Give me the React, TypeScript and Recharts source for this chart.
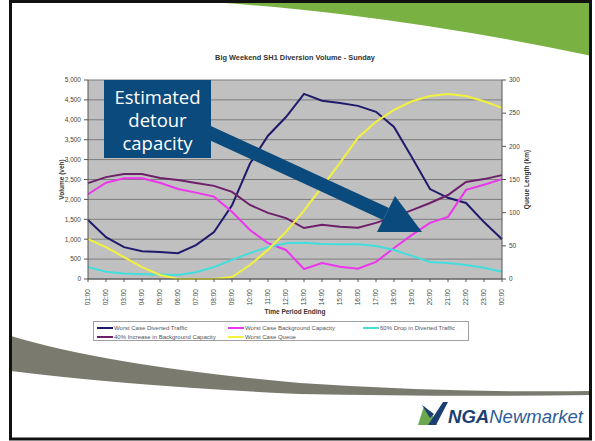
import React from "react";
import { CartesianGrid, Legend, Line, LineChart, XAxis, YAxis } from "recharts";

const times = [
  "01:00", "02:00", "03:00", "04:00", "05:00", "06:00", "07:00", "08:00",
  "09:00", "10:00", "11:00", "12:00", "13:00", "14:00", "15:00", "16:00",
  "17:00", "18:00", "19:00", "20:00", "21:00", "22:00", "23:00", "00:00"
];

const divertedTraffic = [
  1480, 1050, 800, 700, 680, 650, 850, 1180, 1850, 2900, 3600, 4070,
  4650, 4480, 4420, 4350, 4200, 3820, 3050, 2260, 2040, 1910, 1430, 1000
];

const backgroundCapacity = [
  2130, 2420, 2530, 2530, 2420, 2260, 2170, 2070, 1690, 1230, 900, 730,
  250, 400, 310, 260, 430, 780, 1110, 1410, 1560, 2240, 2370, 2510
];

const dropInDiverted = [
  300, 180, 140, 120, 110, 100, 170, 300, 480, 650, 800, 900,
  910, 880, 870, 870, 830, 730, 580, 430, 400, 350, 280, 180
];

const increaseBackground = [
  2410, 2560, 2640, 2640, 2540, 2490, 2410, 2340, 2190, 1860, 1660, 1530,
  1280, 1360, 1310, 1290, 1410, 1560, 1730, 1910, 2110, 2440, 2510, 2610
];

// queue length in km, on the right axis
const queueLength = [
  60, 48, 33, 18, 6, 0, 0, 0, 3, 21, 44, 71,
  103, 139, 175, 213, 237, 255, 268, 276, 279, 276, 268, 258
];

const seriesNames = [
  "Worst Case Diverted Traffic",
  "Worst Case Background Capacity",
  "60% Drop in Diverted Traffic",
  "40% Increase in Background Capacity",
  "Worst Case Queue"
];

const volumeTicks = [0, 500, 1000, 1500, 2000, 2500, 3000, 3500, 4000, 4500, 5000];
const queueTicks = [0, 50, 100, 150, 200, 250, 300];

const data = times.map((time, i) => ({
  time,
  diverted: divertedTraffic[i],
  background: backgroundCapacity[i],
  drop: dropInDiverted[i],
  increase: increaseBackground[i],
  queue: queueLength[i]
}));

const FONT = "'Liberation Sans', Arial, sans-serif";
const tickStyle = { fill: "#444", fontSize: 6.5, fontFamily: FONT };

function TimeTick({ x, y, payload }: any) {
  return (
    <g transform={`translate(${x},${y})`}>
      <text transform="rotate(-90)" x={-5} y={0} dy="0.35em" textAnchor="end" {...tickStyle}>
        {payload.value}
      </text>
    </g>
  );
}

// legend columns as Excel lays them out
const legendColWidths = [131, 135, 100];

function ExcelLegend({ payload }: any) {
  const items = [...(payload || [])].sort(
    (a: any, b: any) => seriesNames.indexOf(a.value) - seriesNames.indexOf(b.value)
  );
  return (
    <div
      style={{
        width: 376,
        height: 20,
        boxSizing: "border-box",
        border: "1px solid #a0a0a0",
        background: "#fff",
        display: "flex",
        flexWrap: "wrap",
        padding: "1px 0 0 3px",
        fontFamily: FONT
      }}
    >
      {items.map((entry: any, i: number) => (
        <div
          key={entry.value}
          style={{
            width: legendColWidths[i % 3],
            height: 9,
            display: "flex",
            alignItems: "center",
            fontSize: 6,
            color: "#555",
            whiteSpace: "nowrap"
          }}
        >
          <span style={{ display: "inline-block", width: 16, height: 2, background: entry.color, marginRight: 1 }} />
          {entry.value}
        </div>
      ))}
    </div>
  );
}

function axisTitle(text: string, dx: number) {
  return ({ viewBox }: any) => {
    const cx = viewBox.x + dx;
    const cy = viewBox.y + viewBox.height / 2;
    return (
      <text x={cx} y={cy} transform={`rotate(-90 ${cx} ${cy})`} textAnchor="middle" dy="0.35em"
        fill="#333" fontSize={6.5} fontWeight="bold" fontFamily={FONT}>
        {text}
      </text>
    );
  };
}

function SlideBackground() {
  return (
    <svg width={595} height={441} style={{ position: "absolute", left: 0, top: 0 }}>
      <rect x={0} y={0} width={595} height={441} fill="#fff" />
      {/* green swoosh top right */}
      <path d="M210,2 L592,2 L592,56 Q470,30 340,14 Q270,6 210,2 Z" fill="#79b142" />
      {/* grey swoosh bottom */}
      <path d="M11,336 Q110,366 300,383 Q450,393 591,391 L591,395 Q450,397 300,394 Q130,386 11,371 Z" fill="#7a7a6e" />
      <rect x={10.5} y={1.5} width={580} height={437.5} fill="none" stroke="#111" strokeWidth={3} />
      <text x={295} y={60} textAnchor="middle" fontSize={7.4} fontWeight="bold" fill="#333" fontFamily={FONT}>
        Big Weekend SH1 Diversion Volume - Sunday
      </text>
      {/* logo */}
      <path d="M418,425 L424,406 L433,416 L437,425 Z" fill="#6aa84f" />
      <path d="M428,425 L443,402 L448,402 L436,425 Z" fill="#1c3f73" />
      <path d="M422,405 L434,414 L430,418 Z" fill="#1c3f73" />
      <text x={448} y={423} fontSize={18} fontStyle="italic" fontFamily={FONT} textLength={135} lengthAdjust="spacingAndGlyphs">
        <tspan fontWeight="bold" fill="#1c3f73">NGA</tspan>
        <tspan fill="#2d5d9b">Newmarket</tspan>
      </text>
    </svg>
  );
}

function Annotation() {
  return (
    <svg width={595} height={441} style={{ position: "absolute", left: 0, top: 0, pointerEvents: "none" }}>
      <polygon points="200,121 389,208 383,220 194,133" fill="#0b4a7c" />
      <polygon points="395,196 422,232 377,232" fill="#0b4a7c" />
      <rect x={104} y={80} width={107} height={78} fill="#0b4a7c" />
      <g fill="#fff" fontFamily="'Open Sans', 'DejaVu Sans', sans-serif" fontSize={18.5} textAnchor="middle">
        <text x={157.5} y={104}>Estimated</text>
        <text x={157.5} y={127}>detour</text>
        <text x={157.5} y={150}>capacity</text>
      </g>
    </svg>
  );
}

export default function App() {
  return (
    <div style={{ position: "absolute", left: 0, top: 0, width: 595, height: 441, background: "#fff" }}>
      <SlideBackground />
      <div style={{ position: "absolute", left: 0, top: 0 }}>
        <LineChart width={595} height={441} data={data} margin={{ top: 80, right: 58, bottom: 132, left: 58 }}>
          <CartesianGrid yAxisId="left" vertical={false} fill="#c0c0c0" stroke="#7c7c7c" strokeWidth={1} />
          <XAxis
            dataKey="time"
            interval={0}
            height={30}
            tick={<TimeTick />}
            tickSize={3}
            axisLine={{ stroke: "#555" }}
            tickLine={{ stroke: "#555" }}
            label={({ viewBox }: any) => (
              <text x={viewBox.x + viewBox.width / 2} y={viewBox.y + 35} textAnchor="middle"
                fill="#333" fontSize={6.5} fontWeight="bold" fontFamily={FONT}>
                Time Period Ending
              </text>
            )}
          />
          <YAxis
            yAxisId="left"
            width={30}
            domain={[0, 5000]}
            ticks={volumeTicks}
            interval={0}
            tickSize={4}
            tickMargin={3}
            tick={tickStyle}
            tickFormatter={(v) => Number(v).toLocaleString("en-US")}
            axisLine={{ stroke: "#555" }}
            tickLine={{ stroke: "#555" }}
            label={axisTitle("Volume (veh)", 4)}
          />
          <YAxis
            yAxisId="right"
            orientation="right"
            width={35}
            domain={[0, 300]}
            ticks={queueTicks}
            interval={0}
            tickSize={4}
            tickMargin={3}
            tick={tickStyle}
            axisLine={{ stroke: "#555" }}
            tickLine={{ stroke: "#555" }}
            label={axisTitle("Queue Length (km)", 25)}
          />
          <Legend
            layout="horizontal"
            align="center"
            verticalAlign="middle"
            content={<ExcelLegend />}
            wrapperStyle={{ left: 93, top: 321, width: 376, height: 20, right: "auto", bottom: "auto" }}
          />
          <Line yAxisId="left" dataKey="diverted" name={seriesNames[0]} stroke="#1f1a6b" strokeWidth={2} dot={false} isAnimationActive={false} />
          <Line yAxisId="left" dataKey="background" name={seriesNames[1]} stroke="#ec35ec" strokeWidth={2} dot={false} isAnimationActive={false} />
          <Line yAxisId="left" dataKey="drop" name={seriesNames[2]} stroke="#42dede" strokeWidth={2} dot={false} isAnimationActive={false} />
          <Line yAxisId="left" dataKey="increase" name={seriesNames[3]} stroke="#6d1f6a" strokeWidth={2} dot={false} isAnimationActive={false} />
          <Line yAxisId="right" dataKey="queue" name={seriesNames[4]} stroke="#f2f23c" strokeWidth={2} dot={false} isAnimationActive={false} />
        </LineChart>
      </div>
      <Annotation />
    </div>
  );
}
